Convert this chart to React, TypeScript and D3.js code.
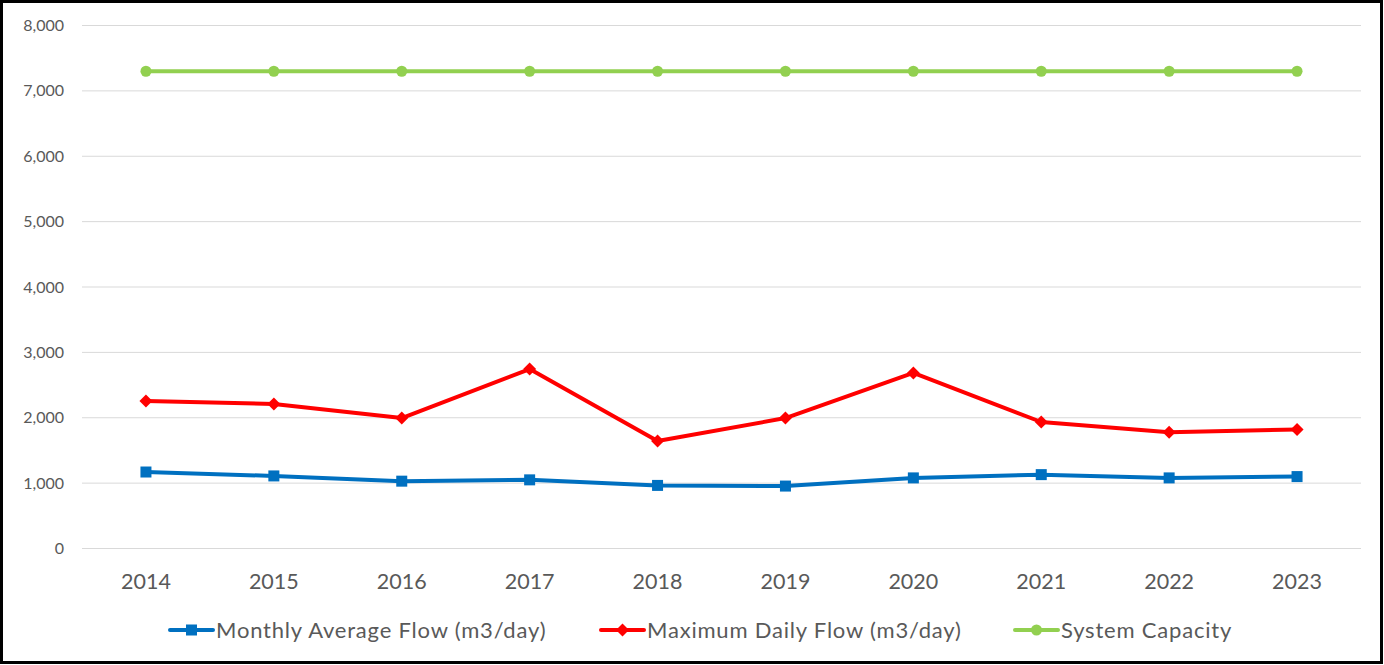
import { useEffect, useRef } from 'react';
import * as d3 from 'd3';

const years = ['2014', '2015', '2016', '2017', '2018', '2019', '2020', '2021', '2022', '2023'];
const monthlyAvg = [1170, 1110, 1030, 1050, 965, 955, 1080, 1130, 1080, 1100];
const maxDaily = [2255, 2210, 1995, 2745, 1645, 1995, 2685, 1935, 1780, 1820];
const capacity = [7300, 7300, 7300, 7300, 7300, 7300, 7300, 7300, 7300, 7300];
const yTicks = [0, 1000, 2000, 3000, 4000, 5000, 6000, 7000, 8000];

const series = [
  { name: 'Monthly Average Flow (m3/day)', values: monthlyAvg, color: '#0070C0', marker: 'square' },
  { name: 'Maximum Daily Flow (m3/day)', values: maxDaily, color: '#FF0000', marker: 'diamond' },
  { name: 'System Capacity', values: capacity, color: '#92D050', marker: 'circle' },
];

const FONT = 'Lato, "Open Sans", sans-serif';

export default function App() {
  const svgRef = useRef<SVGSVGElement>(null);

  useEffect(() => {
    document.body.style.margin = '0';
    if (!svgRef.current) return;
    const svg = d3.select(svgRef.current);
    svg.selectAll('*').remove();

    const W = 1384, H = 665;
    const margin = { left: 82, right: 23, top: 25.5, bottom: 116.5 };

    // frame
    svg.append('rect')
      .attr('x', 1.5).attr('y', 1.5)
      .attr('width', W - 4).attr('height', H - 4)
      .attr('fill', '#fff').attr('stroke', '#000').attr('stroke-width', 3);

    const x = d3.scaleBand()
      .domain(years)
      .range([margin.left, W - margin.right]);

    const y = d3.scaleLinear()
      .domain([0, 8000])
      .range([H - margin.bottom, margin.top]);

    // gridlines
    svg.append('g')
      .selectAll('line')
      .data(yTicks)
      .join('line')
      .attr('x1', margin.left)
      .attr('x2', W - margin.right)
      .attr('y1', d => y(d))
      .attr('y2', d => y(d))
      .attr('stroke', '#d9d9d9')
      .attr('stroke-width', 1);

    // y labels
    svg.append('g')
      .selectAll('text')
      .data(yTicks)
      .join('text')
      .attr('x', 64)
      .attr('y', d => y(d))
      .attr('dy', '0.35em')
      .attr('text-anchor', 'end')
      .attr('fill', '#595959')
      .style('font-family', FONT)
      .style('font-size', '16px')
      .text(d => d3.format(',')(d));

    // x labels
    svg.append('g')
      .selectAll('text')
      .data(years)
      .join('text')
      .attr('x', d => (x(d) || 0) + x.bandwidth() / 2)
      .attr('y', 581)
      .attr('dy', '0.35em')
      .attr('text-anchor', 'middle')
      .attr('fill', '#595959')
      .style('font-family', FONT)
      .style('font-size', '21.5px')
      .text(d => d);

    const cx = (i: number) => (x(years[i]) || 0) + x.bandwidth() / 2;

    const drawMarker = (g: d3.Selection<SVGGElement, unknown, null, undefined>, kind: string, px: number, py: number, color: string) => {
      if (kind === 'square') {
        g.append('rect').attr('x', px - 5.5).attr('y', py - 5.5).attr('width', 11).attr('height', 11).attr('fill', color);
      } else if (kind === 'diamond') {
        g.append('path')
          .attr('d', `M${px},${py - 6.5}L${px + 6.5},${py}L${px},${py + 6.5}L${px - 6.5},${py}Z`)
          .attr('fill', color);
      } else {
        g.append('circle').attr('cx', px).attr('cy', py).attr('r', 5.5).attr('fill', color);
      }
    };

    const line = d3.line<number>()
      .x((_, i) => cx(i))
      .y(d => y(d));

    series.forEach(s => {
      const g = svg.append('g');
      g.append('path')
        .datum(s.values)
        .attr('d', line)
        .attr('fill', 'none')
        .attr('stroke', s.color)
        .attr('stroke-width', 4)
        .attr('stroke-linejoin', 'round')
        .attr('stroke-linecap', 'round');
      s.values.forEach((v, i) => drawMarker(g, s.marker, cx(i), y(v), s.color));
    });

    // legend
    const legendX = [170, 601, 1015];
    const legendY = 630;
    series.forEach((s, i) => {
      const g = svg.append('g');
      const lx = legendX[i];
      g.append('line')
        .attr('x1', lx).attr('x2', lx + 43)
        .attr('y1', legendY).attr('y2', legendY)
        .attr('stroke', s.color).attr('stroke-width', 4)
        .attr('stroke-linecap', 'round');
      drawMarker(g, s.marker, lx + 21.5, legendY, s.color);
      g.append('text')
        .attr('x', lx + 46)
        .attr('y', legendY)
        .attr('dy', '0.35em')
        .attr('fill', '#595959')
        .style('font-family', FONT)
        .style('font-size', '22px')
        .style('letter-spacing', '0.8px')
        .text(s.name);
    });
  }, []);

  return <svg ref={svgRef} width={1384} height={665} style={{ display: 'block' }} />;
}
